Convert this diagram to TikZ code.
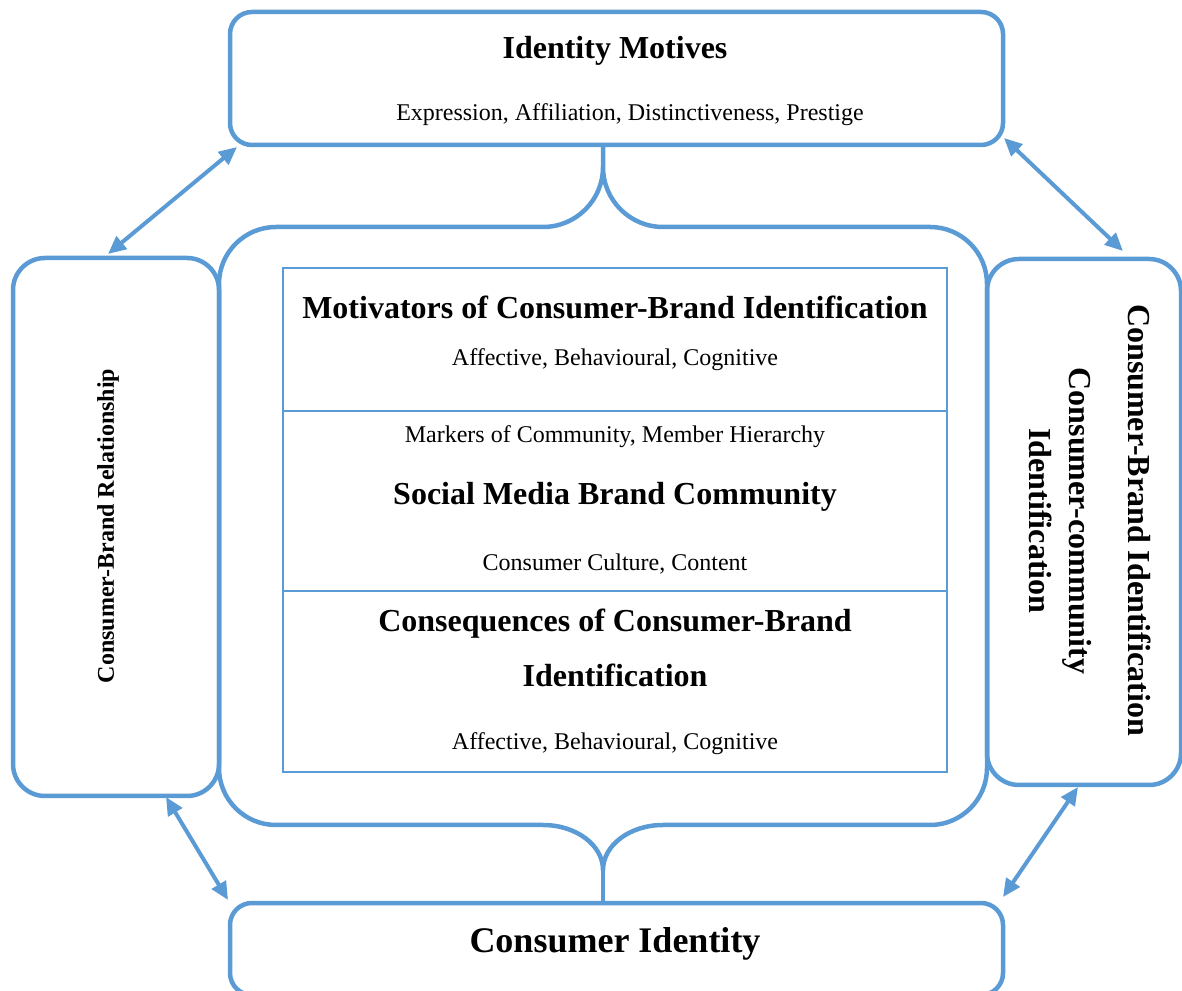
\documentclass[tikz,border=0pt]{standalone}
\usepackage{fontspec}
\setmainfont{Liberation Serif}
\usetikzlibrary{arrows.meta}
\definecolor{bl}{HTML}{5B9BD5}
\tikzset{
  box/.style={draw=bl, line width=4.5pt, rounded corners=#1, inner sep=0pt},
  box/.default=22pt,
  thin/.style={draw=bl, line width=2pt},
  reg/.style={font=\fontsize{24}{28}\selectfont, inner sep=0pt},
  hd/.style={font=\fontsize{32}{36}\selectfont\bfseries, inner sep=0pt},
  dbl/.style={draw=bl, line width=4pt, {Triangle[length=18pt,width=16pt]}-{Triangle[length=18pt,width=16pt]}},
}
\begin{document}
\begin{tikzpicture}[x=1pt,y=1pt]
\useasboundingbox (0,0) rectangle (1182,990);
% outer boxes
\node[box, minimum width=773pt, minimum height=133pt] (top) at (616.5,911.5) {};
\node[box, minimum width=773pt, minimum height=92pt] (bot) at (616.5,41) {};
\node[box=32pt, minimum width=206pt, minimum height=538pt] (left) at (116,463) {};
\node[box=32pt, minimum width=194pt, minimum height=526pt] (right) at (1084,468) {};
% big central shape with braces
\draw[bl, line width=4.5pt, line join=round]
  (603,845) -- (603,823)
  arc[start angle=180, end angle=270, radius=60] -- (930,763)
  arc[start angle=90, end angle=0, radius=57] -- (987,222)
  arc[start angle=0, end angle=-90, radius=57] -- (663,165)
  arc[start angle=90, end angle=180, x radius=60, y radius=45]
  arc[start angle=0, end angle=90, x radius=60, y radius=45] -- (276,165)
  arc[start angle=270, end angle=180, radius=57] -- (219,706)
  arc[start angle=180, end angle=90, radius=57] -- (543,763)
  arc[start angle=270, end angle=360, radius=60];
\draw[bl, line width=4.5pt] (603,120) -- (bot.north -| 603,120);
% inner rectangle
\node[thin, rectangle, minimum width=664pt, minimum height=504pt, inner sep=0pt] (inner) at (615,470) {};
\coordinate (d1l) at (283,579); \coordinate (d1r) at (947,579);
\coordinate (d2l) at (283,399); \coordinate (d2r) at (947,399);
\draw[thin] (d1l) -- (d1r);
\draw[thin] (d2l) -- (d2r);
% texts
\node[hd] (t1) at (615,939) {Identity Motives};
\node[reg] (t2) at (630,875) {Expression, Affiliation, Distinctiveness, Prestige};
\node[hd] (m1) at (615,683) {Motivators of Consumer-Brand Identification};
\node[reg] (m2) at (615,630) {Affective, Behavioural, Cognitive};
\node[reg] (s1) at (615,553) {Markers of Community, Member Hierarchy};
\node[hd] (s2) at (615,493) {Social Media Brand Community};
\node[reg] (s3) at (615,426) {Consumer Culture, Content};
\node[hd] (c1) at (615,366) {Consequences of Consumer-Brand};
\node[hd] (c2) at (615,315) {Identification};
\node[reg] (c3) at (615,246) {Affective, Behavioural, Cognitive};
\node[font=\fontsize{36}{40}\selectfont\bfseries, inner sep=0pt] (ci) at (615,46) {Consumer Identity};
\node[font=\fontsize{24}{28}\selectfont\bfseries, inner sep=0pt, rotate=90] (lt) at (108,464) {Consumer-Brand Relationship};
\node[hd, rotate=-90] (rt1) at (1140,470) {Consumer-Brand Identification};
\node[hd, rotate=-90, align=center, font=\fontsize{32}{40}\selectfont\bfseries] (rt2) at (1060,469) {Consumer-community\\Identification};
% arrows
\coordinate (a1) at (108,736); \coordinate (a2) at (237,843);
\coordinate (b1) at (1004,852); \coordinate (b2) at (1123,739);
\coordinate (c1a) at (166,193); \coordinate (c2a) at (228,90);
\coordinate (e1) at (1078,203); \coordinate (e2) at (1003,93);
\draw[dbl] (a1) -- (a2);
\draw[dbl] (b1) -- (b2);
\draw[dbl] (c1a) -- (c2a);
\draw[dbl] (e1) -- (e2);
\end{tikzpicture}
\end{document}
